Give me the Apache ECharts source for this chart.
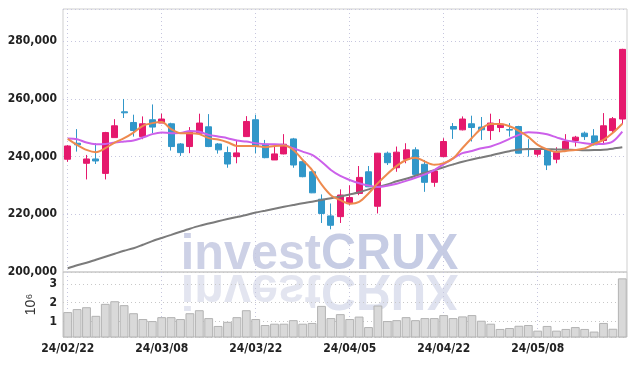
<!DOCTYPE html>
<html><head><meta charset="utf-8">
<script src="https://cdn.jsdelivr.net/npm/echarts@6/dist/echarts.min.js"></script>
<style>html,body{margin:0;padding:0;background:#fff}#c{width:637px;height:366px}</style>
</head><body><div id="c"></div>
<script>
const dates = ['24/02/22','24/02/23','24/02/26','24/02/27','24/02/28','24/02/29','24/03/04','24/03/05','24/03/06','24/03/07',
'24/03/08','24/03/11','24/03/12','24/03/13','24/03/14','24/03/15','24/03/18','24/03/19','24/03/20','24/03/21',
'24/03/22','24/03/25','24/03/26','24/03/27','24/03/28','24/03/29','24/04/01','24/04/02','24/04/03','24/04/04',
'24/04/05','24/04/08','24/04/09','24/04/11','24/04/12','24/04/15','24/04/16','24/04/17','24/04/18','24/04/19',
'24/04/22','24/04/23','24/04/24','24/04/25','24/04/26','24/04/29','24/04/30','24/05/02','24/05/03','24/05/07',
'24/05/08','24/05/09','24/05/10','24/05/13','24/05/14','24/05/16','24/05/17','24/05/20','24/05/21','24/05/22'];
const opens = [239100,244650,237700,239200,234200,246600,255550,251850,246950,252800,
251650,251400,244400,243500,248150,250350,244400,241400,240000,246950,
252800,244300,238850,240950,246150,238250,234750,225250,219450,219200,
223700,227250,234750,222800,241200,236150,239100,242350,237350,231100,
240000,250450,249300,251400,250250,249050,250100,249400,250450,242700,
240850,242350,239100,242350,245600,248150,247200,245600,249050,253050];
const closes = [243700,244100,239200,238500,248350,250700,255200,249050,251400,250250,
253050,243500,241400,248600,251650,243500,242350,237450,241300,252200,
243500,239650,240950,244300,237100,233050,227450,220300,216200,226700,
225800,232800,229550,241200,237900,241550,242350,233850,231100,235000,
245250,249550,253050,250100,249300,251650,251300,249200,241200,242450,
242350,237100,241400,245250,246750,246950,244100,250700,253150,277200];
const lows = [238200,241750,232100,237450,232100,246600,253400,246950,246050,248150,
251650,242100,240250,241200,247900,243300,241050,236150,237700,246850,
241200,239450,238850,240800,236150,232850,227350,217000,214800,217000,
223150,226650,229450,220300,237100,234750,237700,233600,227800,229550,
239900,246150,249100,245250,245800,245800,248500,246950,241100,240000,
240000,235350,237700,242000,243500,245800,243900,244650,247900,251400];
const highs = [244000,249550,240600,244650,248600,253000,260000,254550,253950,258100,
254900,251750,244700,250250,254900,254750,244700,243500,245800,254050,
254550,245800,244100,247800,246500,238850,235000,226900,223750,228650,
230050,236750,236750,241300,241750,243500,244650,243250,238850,235700,
246400,251650,253950,254200,253750,254900,253050,251650,250700,246050,
242500,242400,243250,247800,247200,248700,249550,255100,253750,277400];
const ma5 = [246160,244080,242330,241530,242920,244880,246410,248360,250700,251630,
251980,249550,248150,248150,247800,246410,245920,245010,243730,243730,
243730,243270,243730,243830,242330,238850,235360,230380,226650,224910,
223700,224320,227250,230800,234000,236800,238850,239650,238260,237200,
237750,239400,243000,246450,249700,251290,251290,250520,248950,246860,
244080,242510,241640,241990,242330,242860,244420,245820,248260,251400];
const ma20 = [246270,246060,244880,244320,244420,244880,245230,245580,246620,247800,
248360,248150,248200,248900,248600,247560,246970,246410,245580,245230,
244670,244320,244320,244080,242920,241740,240590,238260,235360,233300,
231900,230800,230000,229450,229900,230600,231600,232680,233870,235360,
237400,239400,241200,241990,242900,243550,244670,246170,247560,248430,
248260,247740,246690,245650,245120,244670,244350,244420,245300,248700];
const maLong = [201290,202330,203200,204250,205290,206340,207380,208250,209470,210690,
211810,212890,213970,215020,215990,216790,217600,218360,219060,219760,
220630,221260,221950,222620,223240,223840,224360,224990,225610,226210,
226900,227670,228650,229520,230390,231440,232310,233350,234400,235270,
236320,237290,238230,239030,239700,240430,241200,241900,242490,242670,
242670,242600,242490,242420,242330,242220,242290,242420,242770,243220];
const volumes = [1500000,1660000,1760000,1300000,1940000,2080000,1870000,1440000,1130000,1020000,
1230000,1230000,1130000,1440000,1600000,1180000,760000,980000,1230000,1600000,
1130000,810000,880000,880000,1070000,880000,920000,1830000,1180000,1390000,
1130000,1260000,700000,1850000,1020000,1070000,1230000,1070000,1180000,1180000,
1340000,1180000,1270000,1340000,1040000,880000,600000,650000,770000,810000,
510000,760000,510000,600000,700000,600000,460000,920000,610000,3300000];
const volumeAxisName = '10\u2076';
const watermarkLeft = 'invest';
const watermarkRight = 'CRUX';

const FONT = "'DejaVu Sans Condensed','DejaVu Sans',sans-serif";
const labelStyle = {color:'#222', fontFamily:FONT, fontWeight:'bold', fontSize:12};
const gridDash = {type:[1,3], color:'#c6c6de', width:1};

const candleData = dates.map((d,i)=>[opens[i], closes[i], lows[i], highs[i]]);

const wmText = (txt, align, fill) => ({
  type:'text', x:0, y:-17, z:0,
  style:{text:txt, fill:fill, font:"bold 50px 'Liberation Sans', sans-serif", align:align, verticalAlign:'middle'}
});

const chart = echarts.init(document.getElementById('c'), null, {renderer:'canvas'});
chart.setOption({
  animation:false,
  backgroundColor:'#fff',
  graphic:[
    {type:'group', x:321, y:272, scaleX:0.97, z:0, silent:true, children:[
      wmText(watermarkLeft,'right','#cdd1e6'), wmText(watermarkRight,'left','#c6cce4')]},
    {type:'group', x:321, y:272, scaleX:0.97, scaleY:-1, z:0, silent:true, children:[
      wmText(watermarkLeft,'right','#e3e5f0'), wmText(watermarkRight,'left','#dfe2ef')]}
  ],
  grid:[
    {left:63, right:10, top:9, height:263, show:true, borderColor:'#cfcfcf', borderWidth:1, backgroundColor:'transparent', containLabel:false, outerBoundsMode:'none'},
    {left:63, right:10, top:272, height:65, show:true, borderColor:'#c4c4c4', borderWidth:1, backgroundColor:'transparent', containLabel:false, outerBoundsMode:'none'}
  ],
  xAxis:[
    {type:'category', gridIndex:0, data:dates, boundaryGap:true,
     axisLine:{show:false}, axisTick:{show:false}, axisLabel:{show:false},
     splitLine:{show:true, interval:9, alignWithLabel:true, lineStyle:gridDash}},
    {type:'category', gridIndex:1, data:dates, boundaryGap:true,
     axisLine:{show:false}, axisTick:{show:false},
     axisLabel:Object.assign({interval:9, margin:6}, labelStyle),
     splitLine:{show:true, interval:9, alignWithLabel:true, lineStyle:gridDash}}
  ],
  yAxis:[
    {type:'value', gridIndex:0, min:200000, max:291200, interval:20000,
     axisLine:{show:false}, axisTick:{show:false},
     axisLabel:Object.assign({showMaxLabel:false, margin:6, formatter:v=>v.toLocaleString('en-US')}, labelStyle),
     splitLine:{show:true, lineStyle:gridDash}},
    {type:'value', gridIndex:1, min:170000, max:3640000, splitNumber:3,
     axisLine:{show:false}, axisTick:{show:false},
     axisLabel:Object.assign({showMinLabel:false, showMaxLabel:false, margin:6, formatter:v=>String(v/1000000)}, labelStyle),
     splitLine:{show:true, lineStyle:{type:[1,3], color:'#c8c8c8', width:1}},
     name:volumeAxisName, nameLocation:'middle', nameRotate:90, nameGap:24,
     nameTextStyle:{color:'#333', fontFamily:"'Liberation Sans',sans-serif", fontSize:14}}
  ],
  series:[
    {type:'candlestick', xAxisIndex:0, yAxisIndex:0, data:candleData, barWidth:'70%', z:3,
     itemStyle:{color:'#e5196d', color0:'#3197c9', borderColor:'#e5196d', borderColor0:'#3197c9', borderWidth:1}},
    {type:'line', xAxisIndex:0, yAxisIndex:0, data:maLong, smooth:0.3, showSymbol:false, z:4,
     lineStyle:{color:'#7b7b7b', width:2}},
    {type:'line', xAxisIndex:0, yAxisIndex:0, data:ma20, smooth:0.3, showSymbol:false, z:4,
     lineStyle:{color:'#cc60ea', width:2}},
    {type:'line', xAxisIndex:0, yAxisIndex:0, data:ma5, smooth:0.3, showSymbol:false, z:4,
     lineStyle:{color:'#ee8a4e', width:2}},
    {type:'bar', xAxisIndex:1, yAxisIndex:1, data:volumes, barCategoryGap:'6%', z:3,
     itemStyle:{color:'#d9d9d9', borderColor:'#b3b3b3', borderWidth:1}}
  ]
});
</script></body></html>
